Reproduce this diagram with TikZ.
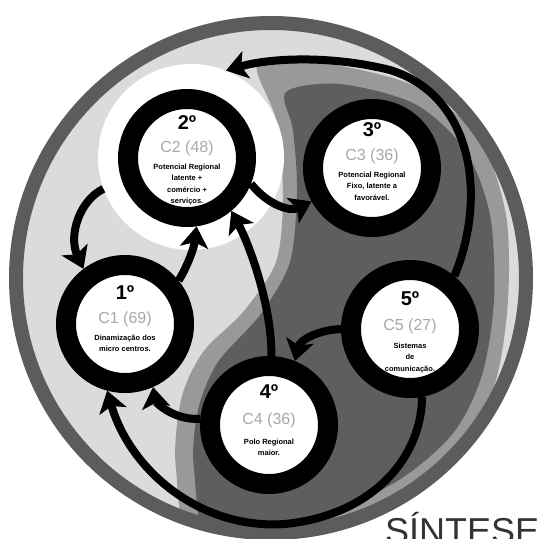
\documentclass[tikz,border=0pt]{standalone}
\usepackage{fontspec}
\setmainfont{Liberation Sans}
\usetikzlibrary{arrows.meta, positioning, calc}
\definecolor{anel}{gray}{0.36}
\definecolor{fundo}{gray}{0.86}
\definecolor{medio}{gray}{0.6}
\definecolor{escuro}{gray}{0.37}
\definecolor{codigo}{gray}{0.66}

\begin{document}
\begin{tikzpicture}[x=1pt, y=-1pt, >=Stealth,
  etapa/.style={circle, draw=black, fill=white, line width=20pt, minimum size=118pt, inner sep=0pt},
  texto/.style={anchor=north, align=center, inner sep=0pt, font=\bfseries\fontsize{7.5}{11.5}\selectfont},
  flecha/.style={line width=8pt, -{Stealth[length=21pt, width=28pt, inset=5pt]}}]
  \useasboundingbox (0,0) rectangle (538,539);

  % fundo em S
  \begin{scope}
    \clip (271,278) circle[radius=250pt];
    \fill[fundo] (271,278) circle[radius=250pt];
    \fill[medio] plot[smooth cycle] coordinates {(258,62) (330,64) (420,88) (480,140) (506,215) (508,300) (496,380) (466,442) (412,492) (330,535) (200,560) (176,470) (181,400) (203,352) (243,312) (276,262) (283,195) (276,120)};
    \fill[escuro] plot[smooth cycle] coordinates {(286,92) (340,84) (415,104) (465,150) (490,215) (494,300) (482,375) (454,432) (402,478) (320,520) (215,560) (194,470) (198,410) (218,362) (260,315) (290,262) (297,190) (293,130)};
  \end{scope}
  \draw[anel, line width=14pt] (271,278) circle[radius=255pt];

  \node[circle, fill=white, minimum size=186pt, inner sep=0pt] (halo) at (191,157) {};

  % etapas
  \node[etapa] (c1) at (125,324) {};
  \node[etapa] (c2) at (187,158) {};
  \node[etapa] (c3) at (372,168) {};
  \node[etapa] (c4) at (269,425) {};
  \node[etapa] (c5) at (410,329) {};

  \node[texto] (c1t) at ([yshift=39pt]c1.center) {{\fontsize{20}{20}\selectfont 1º}\\[12pt]{\mdseries\color{codigo}\fontsize{16}{16}\selectfont C1 (69)}\\[5pt]Dinamização dos\\micro centros.};
  \node[texto] (c2t) at ([yshift=43pt]c2.center) {{\fontsize{20}{20}\selectfont 2º}\\[11pt]{\mdseries\color{codigo}\fontsize{16}{16}\selectfont C2 (48)}\\[5pt]Potencial Regional\\latente +\\comércio +\\serviços.};
  \node[texto] (c3t) at ([yshift=46pt]c3.center) {{\fontsize{20}{20}\selectfont 3º}\\[12pt]{\mdseries\color{codigo}\fontsize{16}{16}\selectfont C3 (36)}\\[5pt]Potencial Regional\\Fixo, latente a\\favorável.};
  \node[texto] (c4t) at ([yshift=41pt]c4.center) {{\fontsize{20}{20}\selectfont 4º}\\[14pt]{\mdseries\color{codigo}\fontsize{16}{16}\selectfont C4 (36)}\\[8pt]Polo Regional\\maior.};
  \node[texto] (c5t) at ([yshift=38pt]c5.center) {{\fontsize{20}{20}\selectfont 5º}\\[13pt]{\mdseries\color{codigo}\fontsize{16}{16}\selectfont C5 (27)}\\[6pt]Sistemas\\de\\comunicação.};

  % fluxos
  \draw[flecha] (c5.50) .. controls (488,195) and (472,95) .. (390,70) .. controls (330,55) and (270,58) .. (halo.68);
  \draw[flecha] (c2.-22) .. controls (268,205) and (290,212) .. (c3.209);
  \draw[flecha] (halo.200) .. controls (80,200) and (68,235) .. (c1.127);
  \draw[flecha] (c1.39) .. controls (188,265) and (194,248) .. (c2.-82);
  \draw[flecha] (c4.88) .. controls (272,310) and (252,250) .. (c2.-50);
  \draw[flecha] (c5.180) .. controls (318,330) and (300,340) .. (c4.68);
  \draw[flecha] (c4.175) .. controls (170,420) and (155,400) .. (c1.-66);
  \draw[flecha] (c5.-80) .. controls (422,455) and (375,515) .. (285,524) .. controls (200,530) and (130,470) .. (c1.-105);

  \node[anchor=base west, inner sep=0pt, text=black!80, font=\fontsize{36}{36}\selectfont] (sintese) at (385,543) {SÍNTESE};
\end{tikzpicture}
\end{document}
